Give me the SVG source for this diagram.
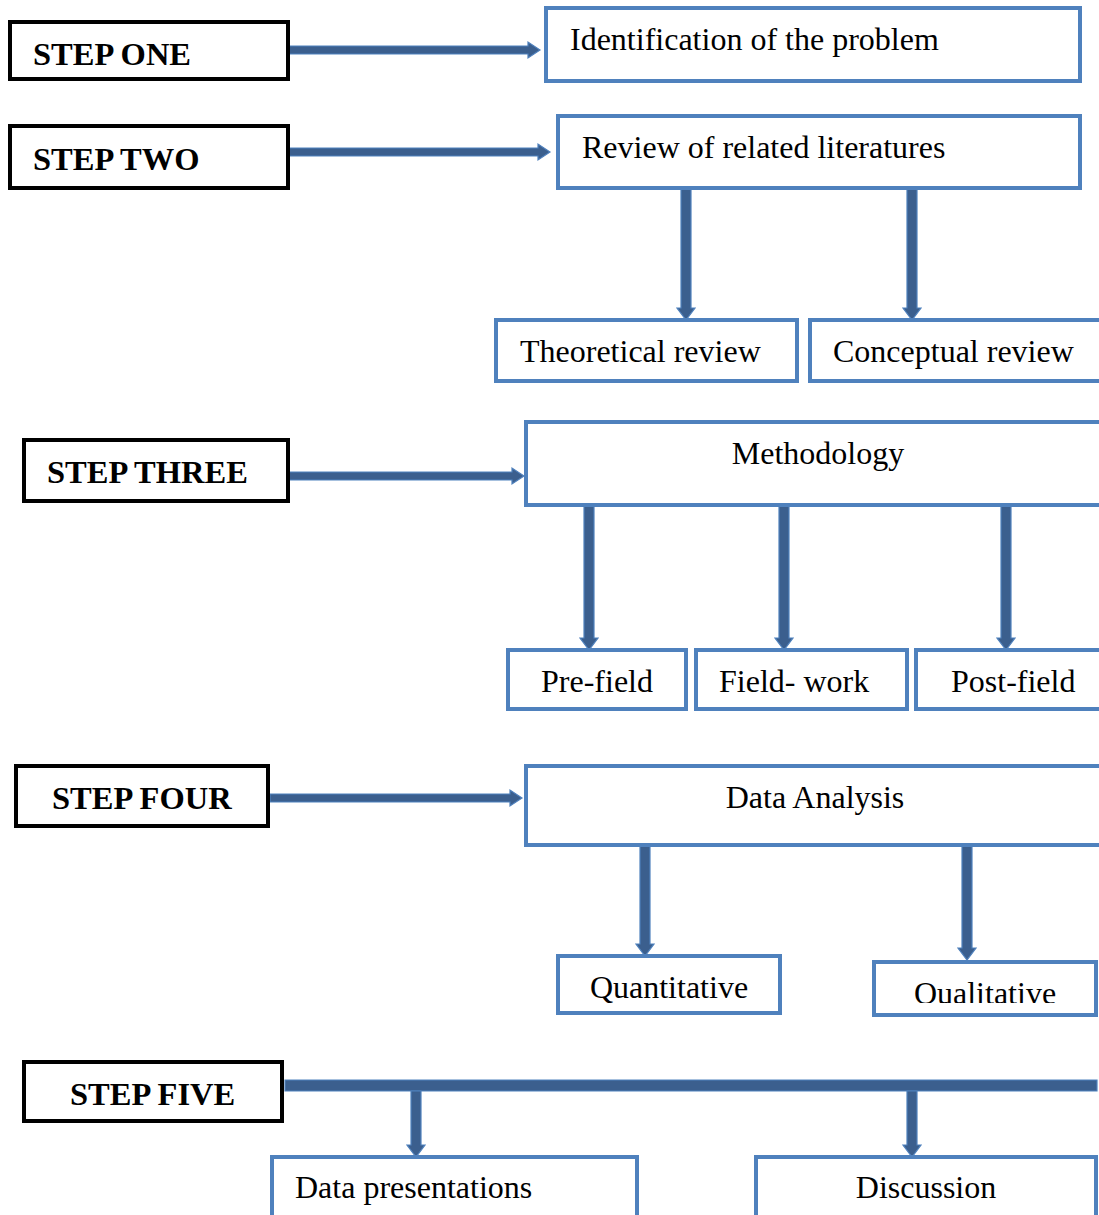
<svg xmlns="http://www.w3.org/2000/svg" width="1099" height="1215" viewBox="0 0 1099 1215">
<style>
.step rect{fill:#fff;stroke:#000;stroke-width:4}
.step text{font-family:"Liberation Serif","Times New Roman",serif;font-weight:bold;font-size:32.5px;fill:#000}
.box rect{fill:#fff;stroke:#4F81BD;stroke-width:4}
.box text{font-family:"Liberation Serif","Times New Roman",serif;font-size:32px;fill:#000}
.arrow{fill:#3B5F8E;stroke:#4F81BD;stroke-width:1.2}
</style>
<defs>
<clipPath id="qclip"><rect x="874" y="962" width="222" height="41"/></clipPath>
</defs>
<rect width="1099" height="1215" fill="#fff"/>

<g id="connectors">
<path class="arrow" d="M288,46 H528 V42 L540,50 L528,58 V54 H288 Z"/>
<path class="arrow" d="M288,148 H538 V144 L550,152 L538,160 V156 H288 Z"/>
<path class="arrow" d="M288,472 H512 V468 L524,476 L512,484 V480 H288 Z"/>
<path class="arrow" d="M270,794 H510 V790 L522,798 L510,806 V802 H270 Z"/>
<path class="arrow" d="M681,188 V308 H677 L686,320 L695,308 H691 V188 Z"/>
<path class="arrow" d="M907,188 V308 H903 L912,320 L921,308 H917 V188 Z"/>
<path class="arrow" d="M584,502 V638 H580 L589,650 L598,638 H594 V502 Z"/>
<path class="arrow" d="M779,502 V638 H775 L784,650 L793,638 H789 V502 Z"/>
<path class="arrow" d="M1001,502 V638 H997 L1006,650 L1015,638 H1011 V502 Z"/>
<path class="arrow" d="M640,845 V944 H636 L645,956 L654,944 H650 V845 Z"/>
<path class="arrow" d="M962,845 V948 H958 L967,960 L976,948 H972 V845 Z"/>
<path class="arrow" d="M285,1080 H1097 V1091 H285 Z"/>
<path class="arrow" d="M411,1091 V1145 H407 L416,1157 L425,1145 H421 V1091 Z"/>
<path class="arrow" d="M907,1091 V1145 H903 L912,1157 L921,1145 H917 V1091 Z"/>
</g>

<g id="step1" class="step"><rect x="10" y="22" width="278" height="57"/><text x="33" y="65">STEP ONE</text></g>
<g id="step2" class="step"><rect x="10" y="126" width="278" height="62"/><text x="33" y="170">STEP TWO</text></g>
<g id="step3" class="step"><rect x="24" y="440" width="264" height="61"/><text x="47" y="483">STEP THREE</text></g>
<g id="step4" class="step"><rect x="16" y="766" width="252" height="60"/><text x="52" y="809">STEP FOUR</text></g>
<g id="step5" class="step"><rect x="24" y="1062" width="258" height="59"/><text x="70" y="1105">STEP FIVE</text></g>

<g id="identification" class="box"><rect x="546" y="8" width="534" height="73"/><text x="570" y="50">Identification of the problem</text></g>
<g id="review" class="box"><rect x="558" y="116" width="522" height="72"/><text x="582" y="158">Review of related literatures</text></g>
<g id="theoretical" class="box"><rect x="496" y="320" width="301" height="61"/><text x="520" y="362">Theoretical review</text></g>
<g id="conceptual" class="box"><rect x="810" y="320" width="295" height="61"/><text x="833" y="362">Conceptual review</text></g>
<g id="methodology" class="box"><rect x="526" y="422" width="580" height="83"/><text x="818" y="464" text-anchor="middle">Methodology</text></g>
<g id="prefield" class="box"><rect x="508" y="650" width="178" height="59"/><text x="597" y="692" text-anchor="middle">Pre-field</text></g>
<g id="fieldwork" class="box"><rect x="696" y="650" width="211" height="59"/><text x="719" y="692">Field- work</text></g>
<g id="postfield" class="box"><rect x="916" y="650" width="190" height="59"/><text x="951" y="692">Post-field</text></g>
<g id="dataanalysis" class="box"><rect x="526" y="766" width="580" height="79"/><text x="815" y="808" text-anchor="middle">Data Analysis</text></g>
<g id="quantitative" class="box"><rect x="558" y="956" width="222" height="57"/><text x="669" y="998" text-anchor="middle">Quantitative</text></g>
<g id="qualitative" class="box"><rect x="874" y="962" width="222" height="53"/><text x="985" y="1004" text-anchor="middle" clip-path="url(#qclip)">Qualitative</text></g>
<g id="datapresentations" class="box"><rect x="272" y="1157" width="365" height="70"/><text x="295" y="1198">Data presentations</text></g>
<g id="discussion" class="box"><rect x="756" y="1157" width="340" height="70"/><text x="926" y="1198" text-anchor="middle">Discussion</text></g>
</svg>
